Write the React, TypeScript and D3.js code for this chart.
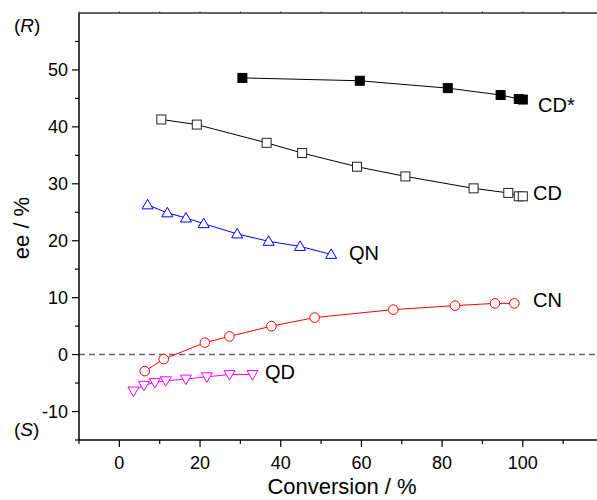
import React from "react";
import * as d3 from "d3";

const cdStarX = [30.5, 59.6, 81.4, 94.5, 99.0, 100.0];
const cdStarY = [48.6, 48.1, 46.8, 45.6, 44.9, 44.8];
const cdX = [10.4, 19.2, 36.5, 45.3, 58.9, 70.9, 87.8, 96.4, 99.0, 100.0];
const cdY = [41.3, 40.4, 37.2, 35.4, 33.0, 31.3, 29.2, 28.4, 27.8, 27.8];
const qnX = [7.0, 11.9, 16.5, 20.9, 29.2, 37.0, 44.8, 52.5];
const qnY = [26.3, 24.9, 24.0, 23.0, 21.2, 19.9, 19.0, 17.6];
const cnX = [6.3, 11.0, 21.2, 27.3, 37.7, 48.4, 67.9, 83.2, 93.1, 97.9];
const cnY = [-2.9, -0.8, 2.1, 3.2, 5.0, 6.5, 7.9, 8.6, 9.0, 9.0];
const qdX = [3.5, 6.1, 8.8, 11.5, 16.5, 21.7, 27.3, 33.0];
const qdY = [-6.4, -5.4, -4.9, -4.6, -4.3, -3.9, -3.5, -3.5];

const xMajor = [0, 20, 40, 60, 80, 100];
const xMinor = [-10, 10, 30, 50, 70, 90, 110];
const yMajor = [-10, 0, 10, 20, 30, 40, 50];
const yMinor = [-15, -5, 5, 15, 25, 35, 45, 55];

const W = 597, H = 500;
const x = d3.scaleLinear().domain([-10, 120]).range([79, 603.5]);
const y = d3.scaleLinear().domain([-15, 60]).range([440, 13]);

type Series = { name: string; xs: number[]; ys: number[]; color: string; shape: string; fill: string; lx: number; ly: number };
const series: Series[] = [
  { name: "CD*", xs: cdStarX, ys: cdStarY, color: "#000", shape: "square", fill: "#000", lx: 538, ly: 112 },
  { name: "CD", xs: cdX, ys: cdY, color: "#000", shape: "square", fill: "#fff", lx: 533, ly: 200 },
  { name: "QN", xs: qnX, ys: qnY, color: "#0000ff", shape: "tri", fill: "#fff", lx: 349, ly: 260 },
  { name: "CN", xs: cnX, ys: cnY, color: "#ff0000", shape: "circle", fill: "#fff", lx: 533, ly: 307 },
  { name: "QD", xs: qdX, ys: qdY, color: "#ff00ff", shape: "tridown", fill: "#fff", lx: 265, ly: 379 },
];

const font = "'Liberation Sans', Arial, sans-serif";

function Marker({ shape, cx, cy, color, fill }: any) {
  if (shape === "square") return <rect x={cx - 4.5} y={cy - 4.5} width={9} height={9} fill={fill} stroke={fill === "#000" ? "#000" : "#222"} strokeWidth={1} />;
  if (shape === "circle") return <circle cx={cx} cy={cy} r={4.8} fill={fill} stroke={color} strokeWidth={1} />;
  if (shape === "tri") return <path d={`M${cx},${cy - 5.5}L${cx + 5.5},${cy + 4}L${cx - 5.5},${cy + 4}Z`} fill={fill} stroke={color} strokeWidth={1} />;
  return <path d={`M${cx},${cy + 5.5}L${cx + 5.5},${cy - 4}L${cx - 5.5},${cy - 4}Z`} fill={fill} stroke={color} strokeWidth={1} />;
}

export default function App() {
  return (
    <svg width={W} height={H} style={{ position: "absolute", left: 0, top: 0, background: "#fff" }} fontFamily={font}>
      <line x1={x(-10)} x2={W} y1={y(0)} y2={y(0)} stroke="#666" strokeWidth={1.5} strokeDasharray="6,4" />
      {series.map((s) => {
        const pts = s.xs.map((v, i) => [x(v), y(s.ys[i])] as [number, number]);
        return (
          <g key={s.name}>
            <path d={d3.line()(pts) || ""} fill="none" stroke={s.color} strokeWidth={1} />
            {pts.map((p, i) => (
              <Marker key={i} shape={s.shape} cx={p[0]} cy={p[1]} color={s.color} fill={s.fill} />
            ))}
            <text x={s.lx} y={s.ly} fontSize={20} fill="#000">{s.name}</text>
          </g>
        );
      })}
      <line x1={x(-10)} x2={x(-10)} y1={y(60)} y2={y(-15)} stroke="#000" strokeWidth={1.5} />
      <line x1={x(-10)} x2={W} y1={y(-15)} y2={y(-15)} stroke="#000" strokeWidth={1.5} />
      <line x1={x(-10)} x2={W} y1={y(60)} y2={y(60)} stroke="#333" strokeWidth={1.5} />
      {[...xMajor, ...xMinor].map((t) => (
        <line key={"tt" + t} x1={x(t)} x2={x(t)} y1={y(60)} y2={y(60) - 1.5} stroke="#333" strokeWidth={1} />
      ))}
      {xMajor.map((t) => (
        <g key={"xm" + t}>
          <line x1={x(t)} x2={x(t)} y1={y(-15)} y2={y(-15) + 7} stroke="#000" strokeWidth={1.2} />
          <text x={x(t)} y={y(-15) + 29} fontSize={18} textAnchor="middle">{t}</text>
        </g>
      ))}
      {xMinor.map((t) => (
        <line key={"xn" + t} x1={x(t)} x2={x(t)} y1={y(-15)} y2={y(-15) + 4} stroke="#000" strokeWidth={1.2} />
      ))}
      {yMajor.map((t) => (
        <g key={"ym" + t}>
          <line x1={x(-10)} x2={x(-10) - 7} y1={y(t)} y2={y(t)} stroke="#000" strokeWidth={1.2} />
          <text x={x(-10) - 11} y={y(t) + 6.5} fontSize={18} textAnchor="end">{t}</text>
        </g>
      ))}
      {yMinor.map((t) => (
        <line key={"yn" + t} x1={x(-10)} x2={x(-10) - 4} y1={y(t)} y2={y(t)} stroke="#000" strokeWidth={1.2} />
      ))}
      <text x={342} y={494} fontSize={22} textAnchor="middle">Conversion / %</text>
      <text transform={`translate(29,228) rotate(-90)`} fontSize={22} textAnchor="middle">ee / %</text>
      <text x={14} y={32} fontSize={19}>(<tspan fontStyle="italic">R</tspan>)</text>
      <text x={14} y={436} fontSize={19}>(<tspan fontStyle="italic">S</tspan>)</text>
    </svg>
  );
}
